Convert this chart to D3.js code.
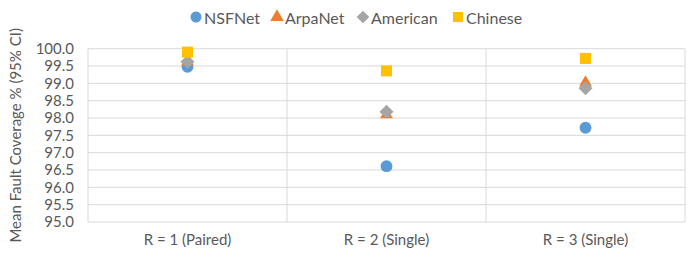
<!DOCTYPE html>
<html>
<head>
<meta charset="utf-8">
<script src="https://cdn.jsdelivr.net/npm/d3@7"></script>
<style>
body { margin: 0; background: #fff; }
text { font-family: Lato, "Open Sans", sans-serif; fill: #595959; }
</style>
</head>
<body>
<div id="chart"></div>
<script>
// chart data
var categories = ["R = 1 (Paired)", "R = 2 (Single)", "R = 3 (Single)"];
var seriesNames = ["NSFNet", "ArpaNet", "American", "Chinese"];
var nsfnet = [99.48, 96.61, 97.72];
var arpanet = [99.62, 98.1, 99.02];
var american = [99.62, 98.18, 98.86];
var chinese = [99.9, 99.36, 99.72];
var yTicks = [95.0, 95.5, 96.0, 96.5, 97.0, 97.5, 98.0, 98.5, 99.0, 99.5, 100.0];

// square-ish diamond like the office marker
var squareDiamond = {
    draw: function(ctx, size) {
        var r = Math.sqrt(size / 2);
        ctx.moveTo(0, -r);
        ctx.lineTo(r, 0);
        ctx.lineTo(0, r);
        ctx.lineTo(-r, 0);
        ctx.closePath();
    }
};

var colors = ["#5B9BD5", "#ED7D31", "#A5A5A5", "#FFC000"];
var shapes = [d3.symbolCircle, d3.symbolTriangle, squareDiamond, d3.symbolSquare];
var sizes = [110, 70, 98, 121];
var allSeries = [nsfnet, arpanet, american, chinese];

var W = 698, H = 259;
var margin = {top: 48.7, right: 13, bottom: 37, left: 88};
var width = W - margin.left - margin.right,
    height = H - margin.top - margin.bottom;

var svg = d3.select("#chart").append("svg")
    .attr("width", W).attr("height", H);

var g = svg.append("g")
    .attr("transform", "translate(" + margin.left + "," + margin.top + ")");

var x = d3.scaleBand().domain(categories).range([0, width]);
var y = d3.scaleLinear().domain([95, 100]).range([height, 0]);

// horizontal gridlines
g.selectAll(".hgrid").data(yTicks).enter().append("line")
    .attr("x1", 0).attr("x2", width)
    .attr("y1", function(d) { return y(d); })
    .attr("y2", function(d) { return y(d); })
    .attr("stroke", "#d9d9d9").attr("stroke-width", 1);

// vertical dividers
var edges = categories.map(function(c) { return x(c); }).concat([width]);
g.selectAll(".vgrid").data(edges).enter().append("line")
    .attr("x1", function(d) { return d; }).attr("x2", function(d) { return d; })
    .attr("y1", 0).attr("y2", height)
    .attr("stroke", "#d9d9d9").attr("stroke-width", 1);

// y axis labels
var yAxis = d3.axisLeft(y).tickValues(yTicks).tickSize(0).tickPadding(14)
    .tickFormat(d3.format(".1f"));
g.append("g").call(yAxis)
    .call(function(s) { s.select(".domain").remove(); })
    .selectAll("text").style("font-size", "15px").attr("fill", "#595959");

// x axis labels
var xAxis = d3.axisBottom(x).tickSize(0).tickPadding(12);
g.append("g").attr("transform", "translate(0," + height + ")").call(xAxis)
    .call(function(s) { s.select(".domain").remove(); })
    .selectAll("text").style("font-size", "15px").attr("fill", "#595959");

// y axis title
svg.append("text")
    .attr("transform", "translate(17," + (margin.top + height / 2) + ") rotate(-90)")
    .attr("text-anchor", "middle")
    .attr("dominant-baseline", "middle")
    .style("font-size", "15px")
    .text("Mean Fault Coverage % (95% CI)");

// points
allSeries.forEach(function(vals, i) {
    g.selectAll(".s" + i).data(vals).enter().append("path")
        .attr("d", d3.symbol().type(shapes[i]).size(sizes[i]))
        .attr("transform", function(d, j) {
            return "translate(" + (x(categories[j]) + x.bandwidth() / 2) + "," + y(d) + ")";
        })
        .attr("fill", colors[i]);
});

// legend
var legendX = [196, 277, 363, 458];
var legendSizes = [95, 80, 80, 100];
var legend = svg.append("g");
seriesNames.forEach(function(name, i) {
    legend.append("path")
        .attr("d", d3.symbol().type(shapes[i]).size(legendSizes[i]))
        .attr("transform", "translate(" + legendX[i] + ",17)")
        .attr("fill", colors[i]);
    legend.append("text")
        .attr("x", legendX[i] + 8).attr("y", 17)
        .attr("dominant-baseline", "central")
        .style("font-size", "16px")
        .text(name);
});
</script>
</body>
</html>
